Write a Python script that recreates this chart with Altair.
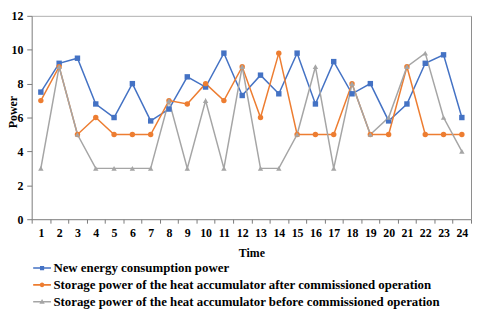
import altair as alt
import pandas as pd

times = list(range(1, 25))
new_energy = [7.5, 9.2, 9.5, 6.8, 6.0, 8.0, 5.8, 6.5, 8.4, 7.8, 9.8, 7.3,
              8.5, 7.4, 9.8, 6.8, 9.3, 7.4, 8.0, 5.8, 6.8, 9.2, 9.7, 6.0]
after_op = [7, 9, 5, 6, 5, 5, 5, 7, 6.8, 8, 7, 9,
            6, 9.8, 5, 5, 5, 8, 5, 5, 9, 5, 5, 5]
before_op = [3, 9, 5, 3, 3, 3, 3, 7, 3, 7, 3, 9,
             3, 3, 5, 9, 3, 8, 5, 6, 9, 9.8, 6, 4]

series_names = [
    "New energy consumption power",
    "Storage power of the heat accumulator after commissioned operation",
    "Storage power of the heat accumulator before commissioned operation",
]
colors = ["#4472C4", "#ED7D31", "#A5A5A5"]
point_shapes = ["square", "circle", "triangle-up"]

rows = []
for name, vals in zip(series_names, [new_energy, after_op, before_op]):
    for t, v in zip(times, vals):
        rows.append({"time": t, "series": name, "value": v})
df = pd.DataFrame(rows)

FONT = "Liberation Serif"
x_scale = alt.Scale(type="band", paddingInner=0, paddingOuter=0)
y_scale = alt.Scale(domain=[0, 12], nice=False)

x_enc = alt.X("time:O", scale=x_scale,
              axis=alt.Axis(title="Time", labelAngle=0, tickBand="extent", tickSize=4,
                            labelPadding=5, titlePadding=9, domainColor="#7a7a7a",
                            tickColor="#7a7a7a", labelFont=FONT, labelFontSize=12,
                            labelFontWeight="bold", titleFont=FONT, titleFontSize=12,
                            titleFontWeight="bold", labelColor="black", titleColor="black"))
y_enc = alt.Y("value:Q", scale=y_scale,
              axis=alt.Axis(title="Power", values=list(range(0, 13, 2)), grid=False,
                            tickSize=5, labelPadding=4, domainColor="#7a7a7a",
                            tickColor="#7a7a7a", labelFont=FONT, labelFontSize=12,
                            labelFontWeight="bold", titleFont=FONT, titleFontSize=12,
                            titleFontWeight="bold", labelColor="black", titleColor="black",
                            titleX=-15, titleY=97, titleAngle=270, titleAlign="center",
                            titleBaseline="alphabetic"))

x_plain = alt.X("time:O", scale=x_scale, axis=None)
y_plain = alt.Y("value:Q", scale=y_scale, axis=None)

x_top = alt.X("time:O", scale=x_scale,
              axis=alt.Axis(orient="top", labels=False, ticks=False, title=None,
                            domain=True, domainColor="#b0b0b0", domainWidth=1, grid=False))
y_right = alt.Y("value:Q", scale=y_scale,
                axis=alt.Axis(orient="right", labels=False, ticks=False, title=None,
                              domain=True, domainColor="#8c8c8c", domainWidth=1, grid=False))

line_path = "M-1.5,-0.13H1.5V0.13H-1.5Z"
legend_paths = [
    line_path + "M-0.35,-0.35H0.35V0.35H-0.35Z",
    line_path + "M-0.4,0A0.4,0.4,0,1,1,0.4,0A0.4,0.4,0,1,1,-0.4,0Z",
    line_path + "M0,-0.45L0.45,0.35H-0.45Z",
]

legend_def = alt.Legend(title=None, orient="none", legendX=4, legendY=249,
                        direction="vertical", symbolSize=144,
                        symbolStrokeWidth=0, labelOffset=5, rowPadding=3,
                        labelFont=FONT, labelFontSize=13,
                        labelFontWeight="bold", labelColor="black",
                        labelLimit=1000, symbolOpacity=1)

color_enc = alt.Color("series:N", scale=alt.Scale(domain=series_names, range=colors),
                      legend=legend_def)

base = alt.Chart(df)

lines = base.mark_line(strokeWidth=1.5).encode(
    x=x_enc, y=y_enc, color=color_enc, detail="series:N",
)

point_layers = []
for name, shp in zip(series_names, point_shapes):
    point_layers.append(
        base.transform_filter(alt.datum.series == name)
        .mark_point(shape=shp, filled=True, size=30, opacity=1)
        .encode(x=x_plain, y=y_plain, color=color_enc)
    )

legend_layer = base.mark_point(filled=True, opacity=0, size=144).encode(
    x=x_top, y=y_right,
    color=color_enc,
    shape=alt.Shape("series:N", scale=alt.Scale(domain=series_names, range=legend_paths),
                    legend=legend_def),
)

chart = alt.layer(lines, *point_layers, legend_layer).resolve_axis(
    x="independent", y="independent"
).properties(
    width=445, height=206,
    autosize="none",
    background="white",
    padding={"left": 24, "top": 6, "right": 1, "bottom": 89},
).configure_view(stroke=None)

chart.save("out.html", embed_options={"renderer": "svg", "actions": False})
